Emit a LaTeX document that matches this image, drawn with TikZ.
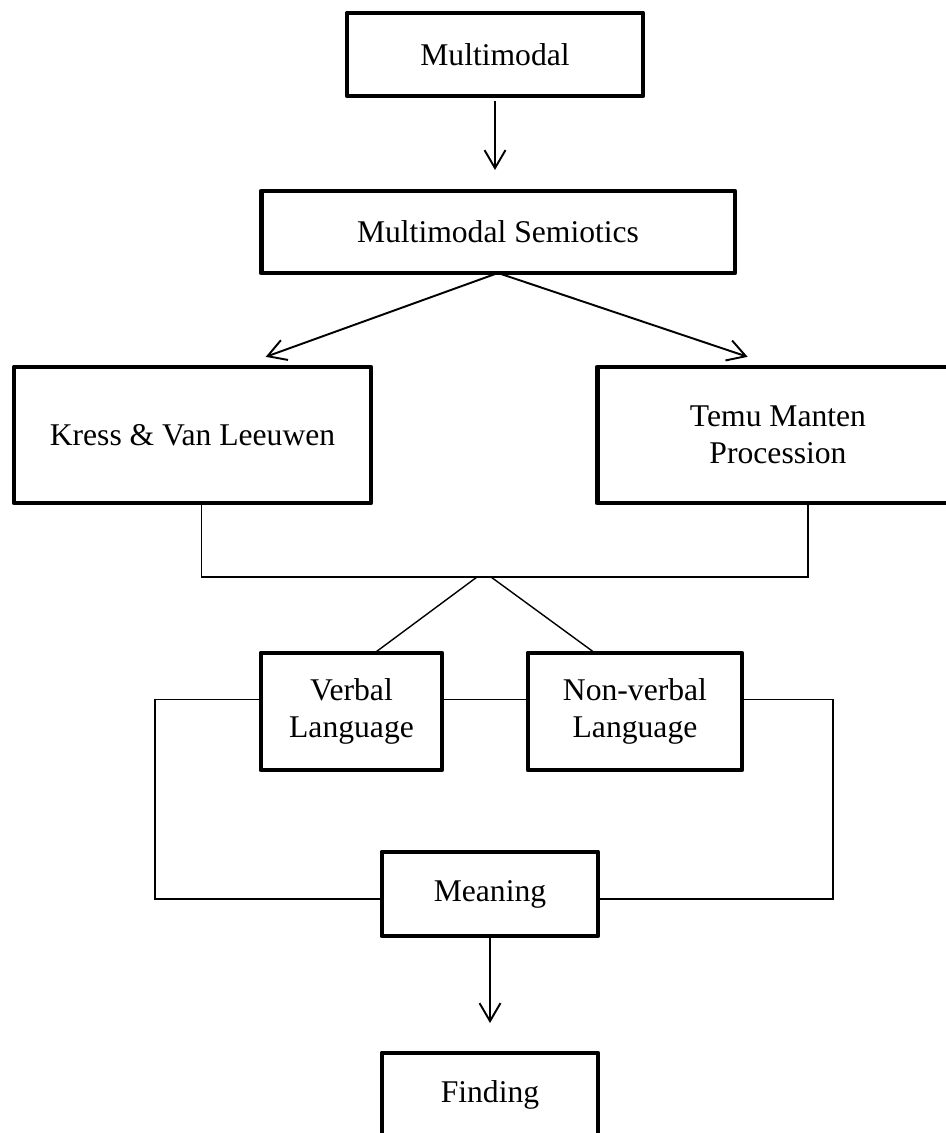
\documentclass[tikz,border=0pt]{standalone}
\usepackage{fontspec}
\setmainfont{Liberation Serif}
\usetikzlibrary{arrows.meta, calc}

\begin{document}
\begin{tikzpicture}[
    x = 0.02cm,
    y = -0.02cm,
    >={Straight Barb[length=0.36cm, width=0.42cm]},
    ]

    \tikzstyle{every node}=[font=\fontsize{18}{21}\selectfont]
    \tikzstyle{box}=[
    draw = black,
    line width = 2.8pt,
    line join = round,
    align = center,
    inner sep = 0pt,
    outer sep = 0pt,
    ]
    \tikzstyle{link}=[line width = 0.8pt]
    \tikzstyle{arrow}=[->, line width = 1.1pt]

    \useasboundingbox (0,0) rectangle (946,1133);

    \node[box, minimum width=5.92cm, minimum height=1.66cm] (mm) at (495,54.5) {Multimodal};
    \node[box, minimum width=9.48cm, minimum height=1.64cm] (semi) at (498,232) {Multimodal Semiotics};
    \node[box, minimum width=7.14cm, minimum height=2.72cm] (kress) at (192.5,435) {Kress \& Van Leeuwen};
    \node[box, minimum width=7.24cm, minimum height=2.72cm] (temu) at (778,435) {Temu Manten\\Procession};
    \node[box, minimum width=3.62cm, minimum height=2.34cm] (verbal) at (351.5,711.5) {Verbal\\Language};
    \node[box, minimum width=4.28cm, minimum height=2.34cm] (nonverbal) at (635,711.5) {Non-verbal\\Language};
    \node[box, minimum width=4.32cm, minimum height=1.68cm] (meaning) at (490,894) {Meaning};
    \node[box, minimum width=4.32cm, minimum height=1.68cm] (finding) at (490,1095) {Finding};

    \coordinate (join) at (485,577);
    \coordinate (lft) at (155,899);
    \coordinate (rgt) at (833,899);

    \draw[arrow, shorten <=0.1cm, shorten >=0.42cm] (mm.south) -- (mm.south |- semi.north);
    \draw[arrow, shorten >=0.6cm] (semi.south) -- ($(kress.north)+(45,0)$);
    \draw[arrow, shorten >=0.64cm] (semi.south) -- (temu.north);

    \draw[link] ($(kress.south)+(9,0)$) |- (join) -| ($(temu.south)+(30,0)$);
    \draw[link] ($(join)+(-8,0)$) -- ($(verbal.north)+(23,0)$);
    \draw[link] ($(join)+(6,0)$) -- ($(nonverbal.north)+(-40,0)$);

    \draw[link] ($(verbal.east)+(0,-12)$) -- ($(nonverbal.west)+(0,-12)$);
    \draw[link] ($(verbal.west)+(0,-12)$) -| (lft) -- (meaning.west |- lft);
    \draw[link] ($(nonverbal.east)+(0,-12)$) -| (rgt) -- (meaning.east |- rgt);

    \draw[arrow, shorten >=0.6cm] (meaning.south) -- (finding.north);
\end{tikzpicture}
\end{document}
